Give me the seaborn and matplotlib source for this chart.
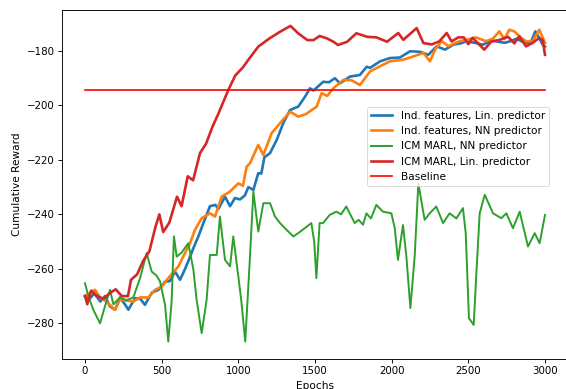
import matplotlib
matplotlib.use("Agg")
import matplotlib.pyplot as plt
import seaborn as sns
import pandas as pd

# ---- data ----
ind_lin_x = [0, 30, 60, 100, 130, 163, 196, 228, 260, 283, 326, 360, 391, 435, 478, 522, 554, 587,
             620, 645, 675, 706, 740, 772, 815, 850, 870, 913, 946, 978, 1011, 1043, 1065, 1098, 1130,
             1150, 1170, 1207, 1228, 1250, 1293, 1337, 1391, 1435, 1467, 1490, 1554, 1590, 1630, 1663,
             1728, 1793, 1837, 1859, 1924, 1989, 2054, 2120, 2185, 2239, 2294, 2348, 2402, 2457, 2485,
             2543, 2594, 2650, 2685, 2737, 2780, 2815, 2860, 2905, 2937, 2960, 2985, 3000]
ind_lin_y = [-270, -271, -269, -272, -270, -273.8, -275, -270.5, -273, -275, -270.8, -271, -273.2, -268.8,
             -267.7, -264.7, -264.5, -261, -264, -261, -257, -252.5, -248, -243.2, -237, -236.5, -238,
             -233.5, -237, -234, -234.5, -233, -230, -231, -224.9, -225, -219, -217.5, -215.1, -212.7,
             -206.5, -201.7, -200.4, -196.8, -193.7, -194.5, -191.3, -191.5, -190, -191.9, -189.4, -188.8,
             -185.8, -186.2, -183.8, -182.6, -182.4, -180.1, -180.3, -181.4, -178.3, -179.5, -177.7,
             -177.1, -176.4, -177, -177.7, -176.2, -176.5, -177, -176.3, -175.5, -176.8, -177.2, -172.8,
             -175, -177.7, -178.4]

ind_nn_x = [0, 65, 98, 140, 196, 228, 315, 359, 413, 457, 500, 543, 609, 652, 685, 717, 761, 815, 848,
            891, 946, 1000, 1030, 1054, 1076, 1130, 1163, 1217, 1272, 1337, 1391, 1440, 1511, 1543, 1580,
            1620, 1685, 1740, 1793, 1859, 1924, 1989, 2076, 2141, 2207, 2250, 2283, 2326, 2370, 2410,
            2446, 2485, 2550, 2615, 2660, 2702, 2735, 2767, 2800, 2844, 2880, 2920, 2963, 3000]
ind_nn_y = [-270, -267.7, -270.5, -272, -275, -271.3, -272, -270.5, -270.5, -267.7, -266.5, -263.4,
            -259.1, -254.2, -250.6, -245.7, -241.4, -239.6, -240.8, -233.5, -231.6, -228.6, -229.5,
            -222.5, -221.2, -214.5, -218.2, -210.2, -206.5, -202.3, -204.1, -203.2, -200.4, -195.5,
            -196.5, -193.7, -190.6, -190.8, -192.5, -187.5, -185.6, -183.8, -183.2, -182, -180.7,
            -183.8, -179.5, -176.4, -178.2, -177.2, -176.4, -175.9, -175, -176.4, -175.5, -172.8,
            -175.6, -172.2, -172.8, -175.2, -176.5, -176.3, -172.2, -177]

icm_nn_x = [0, 22, 54, 98, 130, 163, 185, 228, 270, 315, 359, 402, 435, 467, 489, 522, 543, 565, 580,
            598, 630, 674, 707, 728, 761, 793, 815, 859, 880, 913, 946, 967, 1000, 1020, 1045, 1076,
            1098, 1130, 1163, 1207, 1239, 1272, 1315, 1359, 1400, 1446, 1476, 1495, 1509, 1530, 1552,
            1596, 1639, 1670, 1704, 1759, 1785, 1813, 1835, 1865, 1900, 1943, 1998, 2020, 2041, 2074,
            2096, 2122, 2150, 2174, 2215, 2248, 2291, 2335, 2378, 2422, 2465, 2483, 2504, 2535, 2552,
            2574, 2607, 2661, 2715, 2748, 2791, 2835, 2889, 2933, 2965, 3000]
icm_nn_y = [-265.3, -270, -275, -280, -273.8, -267.7, -273, -270.5, -271.5, -270.5, -263.4, -254.2, -261,
            -262.5, -264.6, -273.2, -286.7, -272, -248.1, -255.5, -254, -250.6, -260.4, -271.4, -283.6,
            -271.4, -254.9, -254.9, -240.8, -256.7, -259.1, -248.1, -262.8, -272, -286.7, -255.5, -231.6,
            -246.3, -235.9, -235.9, -240.8, -243.2, -245.7, -248.1, -246.5, -244.5, -243.2, -250,
            -263.4, -243.2, -243.2, -240.2, -239, -240, -237.1, -243.2, -242, -243.8, -239.6, -241.5,
            -236.5, -239, -239.6, -245, -256.7, -243.9, -255.5, -274.4, -255.5, -228.6, -242, -239.6,
            -237.1, -243.2, -239.6, -241.5, -237.7, -246.9, -278.1, -280.6, -262, -239.6, -232.8,
            -239.6, -241.4, -239.6, -245.1, -239, -251.8, -246.9, -250.6, -240.2]

icm_lin_x = [0, 15, 40, 80, 120, 160, 200, 240, 280, 300, 340, 380, 420, 460, 485, 510, 550, 600, 630,
             670, 705, 750, 790, 830, 870, 935, 980, 1030, 1075, 1130, 1200, 1270, 1340, 1390, 1450,
             1490, 1530, 1575, 1620, 1650, 1710, 1770, 1840, 1900, 1970, 2043, 2076, 2163, 2207, 2261,
             2310, 2359, 2391, 2435, 2470, 2500, 2528, 2572, 2604, 2650, 2700, 2759, 2800, 2833, 2876,
             2920, 2963, 2985, 3000]
icm_lin_y = [-270, -273, -268, -270, -271, -269, -267.5, -270, -270, -264, -262, -257, -253.5, -244.5,
             -240, -246.5, -243, -233.5, -237, -226, -227.5, -217.5, -214, -208, -203, -194.3, -189, -186,
             -182.5, -178.4, -175.5, -173, -170.8, -173.5, -176, -176, -174.5, -175.3, -176.6, -177.8,
             -176.6, -173.5, -174.8, -175, -176.6, -173.4, -175.9, -171.6, -177.1, -177.6, -176.5,
             -173.4, -176.5, -175, -175, -177.5, -175.2, -177.7, -179.5, -176.5, -176, -174.8, -177.2,
             -174.6, -178.3, -177, -175.2, -176, -181.4]

baseline_x = [0, 3000]
baseline_y = [-194.2, -194.2]

labels = ["Ind. features, Lin. predictor", "Ind. features, NN predictor",
          "ICM MARL, NN predictor", "ICM MARL, Lin. predictor", "Baseline"]
x_ticks = [0, 500, 1000, 1500, 2000, 2500, 3000]
y_ticks = [-280, -260, -240, -220, -200, -180]

# ---- figure ----
plt.rcParams.update({
    "axes.linewidth": 0.65,
    "xtick.major.size": 2.8,
    "ytick.major.size": 2.8,
    "xtick.major.width": 0.65,
    "ytick.major.width": 0.65,
    "xtick.major.pad": 2.6,
    "ytick.major.pad": 2.6,
    "xtick.labelsize": 7.4,
    "ytick.labelsize": 7.4,
    "axes.labelsize": 7.6,
    "axes.labelpad": 3.0,
    "legend.fontsize": 7.6,
})

fig = plt.figure(figsize=(5.66, 3.89), dpi=100)
ax = fig.add_axes([62 / 566, 30 / 389, 506 / 566, 349 / 389])

series = [
    (ind_lin_x, ind_lin_y, "#1f77b4", 1.9),
    (ind_nn_x, ind_nn_y, "#ff7f0e", 1.9),
    (icm_nn_x, icm_nn_y, "#2ca02c", 1.4),
    (icm_lin_x, icm_lin_y, "#d62728", 1.9),
    (baseline_x, baseline_y, "red", 1.2),
]
for (xs, ys, col, lw), lab in zip(series, labels):
    df = pd.DataFrame({"Epochs": xs, "Reward": ys})
    sns.lineplot(data=df, x="Epochs", y="Reward", ax=ax, color=col, linewidth=lw,
                 label=lab, estimator=None, sort=False)

ax.set_xlim(-150, 3150)
ax.set_ylim(-293.1, -164.95)
ax.set_xticks(x_ticks)
ax.set_yticks(y_ticks)
ax.set_xlabel("Epochs")
ax.set_ylabel("Cumulative Reward")
leg = ax.legend(loc="upper right", bbox_to_anchor=(0.963, 0.723), borderaxespad=0)
leg.get_frame().set_linewidth(0.6)

fig.savefig("out.png", dpi=100)
